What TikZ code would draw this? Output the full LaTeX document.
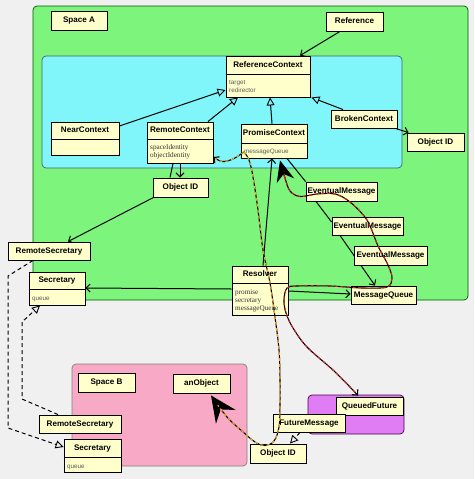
\documentclass[tikz,border=0pt]{standalone}
\usepackage{fontspec}
\setmainfont{Liberation Serif}
\newfontfamily\tfont{Liberation Sans}
\usetikzlibrary{arrows.meta,shadows,calc}
\definecolor{bgc}{HTML}{F0F0F0}
\definecolor{greenA}{HTML}{7DF57D}
\definecolor{cyanA}{HTML}{80F5FA}
\definecolor{pinkB}{HTML}{F7A9C6}
\definecolor{purp}{HTML}{E07DF5}
\definecolor{boxy}{HTML}{FFFFCC}
\definecolor{orangeL}{HTML}{F5A623}
\definecolor{redL}{HTML}{E02020}
\pgfdeclarelayer{bglayer}
\pgfdeclarelayer{lines}
\pgfdeclarelayer{toplayer}
\pgfsetlayers{bglayer,lines,main,toplayer}
\newcommand\clsbox[7]{%
  \node[nbox, minimum width=#4, minimum height=#5] (#1) at (#2,#3) {};
  \node[ttl] (#1-t) at ([yshift=-#6/2]#1.north) {#7};
  \draw[line width=0.9pt] ([yshift=-#6]#1.north west) -- ([yshift=-#6]#1.north east);
}
\newcommand\attr[5]{\node[#4, anchor=base west] (#1) at (#2,#3) {#5};}
\begin{document}
\begin{tikzpicture}[x=1pt,y=-1pt,
  nbox/.style={draw=black, line width=0.9pt, fill=boxy, inner sep=0pt,
    font=\tfont\bfseries\fontsize{8.1}{8}\selectfont, text height=5.8pt, text depth=1.5pt,
    drop shadow={shadow xshift=1.3pt,shadow yshift=-1.3pt,fill=black!45}},
  ttl/.style={inner sep=0pt, font=\tfont\bfseries\fontsize{8.1}{8}\selectfont, text height=5.8pt, text depth=1.5pt},
  attrs/.style={inner sep=0pt, font=\tfont\fontsize{6.3}{7}\selectfont, text=black!65},
  attrr/.style={inner sep=0pt, font=\rmfamily\fontsize{7.2}{7}\selectfont, text=black!80},
  region/.style={rounded corners=4pt, line width=0.7pt},
  plain/.style={line width=1pt},
  assoc/.style={line width=1pt, -{Straight Barb[length=4pt,width=8pt]}},
  inh/.style={line width=1pt, -{Triangle[open,length=8pt,width=8pt,line width=0.9pt]}},
  dashline/.style={dash pattern=on 4pt off 3pt},
  basepath/.style={line width=1.1pt, black},
  bigtip/.tip={Stealth[length=26pt,width=24pt,inset=9pt]},
  midtip/.tip={Stealth[length=21pt,width=18pt,inset=7pt]},
]
\useasboundingbox (0,0) rectangle (474,479);
\begin{pgfonlayer}{bglayer}
\fill[bgc] (0,0) rectangle (474,479);
\draw[region, fill=greenA, draw=green!35!black] (33,6) rectangle (468,300);
\draw[region, fill=cyanA, draw=cyan!35!black] (42,56) rectangle (402,168);
\draw[region, fill=pinkB, draw=black!50] (72,364) rectangle (247,466);
\draw[region, fill=purp, draw=violet!60!black] (308,395) rectangle (404,434);
\end{pgfonlayer}

% nodes
\node[nbox, minimum width=56, minimum height=19] (spaceA) at (79,20.5) {Space A};
\node[nbox, minimum width=57, minimum height=19] (reference) at (354.5,21.5) {Reference};
\clsbox{refctx}{268}{76.5}{84}{41}{19}{ReferenceContext}
\attr{refctx-a1}{229}{84}{attrs}{target}
\attr{refctx-a2}{229}{92}{attrs}{redirector}
\clsbox{nearctx}{85}{138.5}{68}{33}{18}{NearContext}
\clsbox{remotectx}{180}{142.5}{66}{41}{18}{RemoteContext}
\attr{remotectx-a1}{150}{149.5}{attrr}{spaceIdentity}
\attr{remotectx-a2}{150}{157.5}{attrr}{objectIdentity}
\clsbox{promisectx}{274}{141}{66}{34}{20}{PromiseContext}
\attr{promisectx-a1}{244}{153.5}{attrs}{messageQueue}
\node[nbox, minimum width=66, minimum height=18] (brokenctx) at (364,119) {BrokenContext};
\node[nbox, minimum width=57, minimum height=18] (oidR) at (435.5,142) {Object ID};
\node[nbox, minimum width=55, minimum height=19] (oidM) at (180.5,187.5) {Object ID};
\node[nbox, minimum width=71, minimum height=19] (em1) at (341.5,191.5) {EventualMessage};
\node[nbox, minimum width=71, minimum height=18] (em2) at (367.5,226) {EventualMessage};
\node[nbox, minimum width=73, minimum height=19] (em3) at (390.5,255.5) {EventualMessage};
\clsbox{resolver}{260}{290.5}{56}{49}{18}{Resolver}
\attr{resolver-a1}{235}{294.5}{attrr}{promise}
\attr{resolver-a2}{235}{302.5}{attrr}{secretary}
\attr{resolver-a3}{235}{310}{attrr}{messageQueue}
\node[nbox, minimum width=65, minimum height=18] (msgq) at (383.5,295) {MessageQueue};
\node[nbox, minimum width=82, minimum height=18] (remsecA) at (49,251) {RemoteSecretary};
\clsbox{secA}{57}{288.5}{56}{33}{18}{Secretary}
\attr{secA-a1}{32}{300}{attrs}{queue}
\node[nbox, minimum width=57, minimum height=19] (spaceB) at (106.5,382.5) {Space B};
\node[nbox, minimum width=57, minimum height=19] (anobj) at (201.5,383.5) {anObject};
\node[nbox, minimum width=82, minimum height=18] (remsecB) at (80,424) {RemoteSecretary};
\clsbox{secB}{92.5}{455.5}{57}{33}{19}{Secretary}
\attr{secB-a1}{67}{468}{attrs}{queue}
\node[nbox, minimum width=67, minimum height=18] (queued) at (369.5,406) {QueuedFuture};
\node[nbox, minimum width=72, minimum height=18] (futmsg) at (309,423) {FutureMessage};
\node[nbox, minimum width=56, minimum height=19] (oidB) at (278,453.5) {Object ID};

\coordinate (d1a) at (8,276);
\coordinate (d1b) at (8,428);
\coordinate (d2a) at (22,399);
\coordinate (d2b) at (22,322);

\begin{pgfonlayer}{lines}
\draw[assoc] ([xshift=-14.5]reference.south) -- ([xshift=32]refctx.north);
\draw[inh] ([yshift=12.5]nearctx.east) -- ([yshift=-13.5]refctx.west);
\draw[inh] ([xshift=28]remotectx.north) -- ([xshift=-30]refctx.south);
\draw[inh] ([xshift=-2]promisectx.north) -- ([xshift=2]refctx.south);
\draw[inh] ([xshift=-21]brokenctx.north) -- ([xshift=1]refctx.south east);
\draw[assoc] ([xshift=-2]brokenctx.south east) -- ([xshift=2]oidR.north west);
\draw[plain] ([xshift=-7]remotectx.south) -- ([xshift=-10.5]oidM.north);
\draw[assoc] (remotectx.south) -- ([xshift=-0.5]oidM.north);
\draw[assoc] ([xshift=1]oidM.south west) -- ([xshift=19]remsecA.north);
\draw[assoc] ([yshift=1.5]resolver.west) -- ([yshift=0.5]secA.east);
\draw[assoc] ([xshift=3]resolver.north) -- ([xshift=-2]promisectx.south);
\draw[assoc] ([yshift=-0.5]resolver.east) -- ([yshift=1]msgq.west);
\draw[plain] ([xshift=13]promisectx.south) -- (em1.north west);
\draw[plain] ([xshift=-25.5]em1.south) -- ([yshift=4]em2.west);
\draw[assoc] ([xshift=-27.5]em2.south) -- ([xshift=-8.5]msgq.north);
\draw[inh, dashline] ([xshift=-16]remsecA.south) -- (d1a) -- (d1b) -- ([yshift=8.5]secB.west);
\draw[inh, dashline] ([xshift=-22]remsecB.north) -- (d2a) -- (d2b) -- ([xshift=-17]secA.south);
\draw[inh, dashline] ([xshift=-9]futmsg.south) -- ([xshift=12]oidB.north);
\end{pgfonlayer}

\def\redpath{plot[smooth,tension=0.55] coordinates {([xshift=6,yshift=-2]promisectx.south) (285,178) (290,191) (300,196.5) (317,194) (335,194) (350,202) (367,220) (378,246) (388,265) (392,278) (387,287) (363,288) (330,286) (297,286) (287,288) (284,300) (286,313) (293,328) (307,347) (333,370) (350,387) ([xshift=-11.5,yshift=1]queued.north)}}
\def\orpathA{plot[smooth,tension=0.6] coordinates {(promisectx-a1.west) (233,159) (222,161.5) ([yshift=-14.5]remotectx.east)}}
\def\orpathB{plot[smooth,tension=0.6] coordinates {(promisectx-a1.west) (249,160) (253,177) (258,210) (263,250) (270,283) (275,317) (279,350) (280,380) (280,405) (279,427) (274,441) (265,445.5) (255,442) (242,431) (227,417) ([xshift=9.5,yshift=-2]anobj.south)}}

\begin{pgfonlayer}{toplayer}
\draw[basepath, {midtip}-{Straight Barb[length=4pt,width=8pt]}] \redpath;
\draw[redL, line width=1.1pt, dash pattern=on 3pt off 3pt, shorten <=18pt, shorten >=3pt] \redpath;
\draw[basepath, -{Straight Barb[length=4pt,width=8pt]}] \orpathA;
\draw[orangeL, line width=1.1pt, dash pattern=on 3pt off 3pt, shorten >=3pt] \orpathA;
\draw[basepath, -{bigtip}] \orpathB;
\draw[orangeL, line width=1.1pt, dash pattern=on 3pt off 3pt, shorten >=22pt] \orpathB;
\end{pgfonlayer}
\end{tikzpicture}
\end{document}
